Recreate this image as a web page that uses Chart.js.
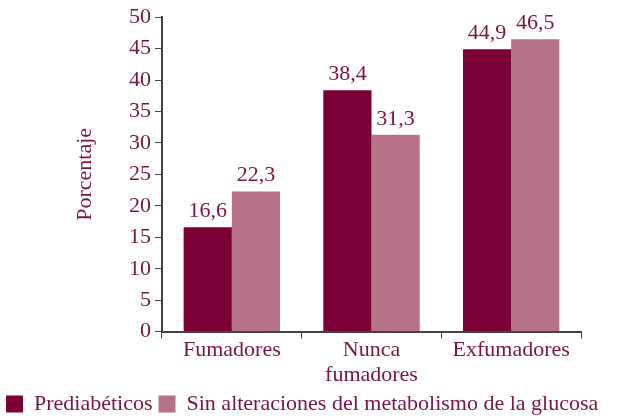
<!DOCTYPE html>
<html>
<head>
<meta charset="utf-8">
<script src="https://cdn.jsdelivr.net/npm/chart.js@4"></script>
<style>
  html, body { margin: 0; padding: 0; background: #fff; }
  #wrap { width: 621px; height: 416px; }
</style>
</head>
<body>
<div id="wrap"><canvas id="chart" width="621" height="416"></canvas></div>
<script>
const categories = [["Fumadores"], ["Nunca", "fumadores"], ["Exfumadores"]]
const prediabeticos = [16.6, 38.4, 44.9]
const sinAlteraciones = [22.3, 31.3, 46.5]
const yTicks = [0, 5, 10, 15, 20, 25, 30, 35, 40, 45, 50]

const textColor = '#7a1444'
const fontFamily = '"Liberation Serif", "DejaVu Serif", serif'

// prints the value above each bar
const valueLabels = {
  id: 'valueLabels',
  afterDatasetsDraw(chart) {
    const ctx = chart.ctx
    ctx.save()
    ctx.fillStyle = textColor
    ctx.font = '22px ' + fontFamily
    ctx.textAlign = 'center'
    ctx.textBaseline = 'bottom'
    chart.data.datasets.forEach((ds, i) => {
      chart.getDatasetMeta(i).data.forEach((bar, j) => {
        ctx.fillText(ds.data[j].toFixed(1).replace('.', ','), bar.x, bar.y - 5)
      })
    })
    ctx.restore()
  }
}

const ctx = document.getElementById('chart').getContext('2d')
const chart = new Chart(ctx, {
  type: 'bar',
  data: {
    labels: categories,
    datasets: [
      {
        label: 'Prediabéticos',
        data: prediabeticos,
        backgroundColor: '#7a0036',
      },
      {
        label: 'Sin alteraciones del metabolismo de la glucosa',
        data: sinAlteraciones,
        backgroundColor: '#b67388',
      },
    ],
  },
  options: {
    animation: false,
    responsive: false,
    maintainAspectRatio: false,
    layout: { padding: { top: 6, right: 0, left: 0, bottom: -9 } },
    datasets: {
      bar: { categoryPercentage: 0.69, barPercentage: 1.0 }
    },
    plugins: {
      tooltip: { enabled: false },
      legend: {
        position: 'bottom',
        align: 'start',
        labels: {
          color: textColor,
          font: { family: fontFamily, size: 22 },
          boxWidth: 17,
          boxHeight: 17,
          padding: 6,
        },
      },
    },
    scales: {
      x: {
        grid: {
          display: true,
          drawOnChartArea: false,
          drawTicks: true,
          tickLength: 7,
          tickColor: '#444',
          offset: true,
        },
        border: { color: '#444', width: 2 },
        ticks: {
          color: textColor,
          font: { family: fontFamily, size: 22, lineHeight: 1.1 },
          padding: 0,
        },
      },
      y: {
        min: 0,
        max: 50,
        afterBuildTicks(axis) {
          axis.ticks = yTicks.map(v => ({ value: v }))
        },
        afterFit(axis) { axis.width = 162 },
        grid: {
          display: true,
          drawOnChartArea: false,
          tickLength: 7,
          tickColor: '#444',
        },
        border: { color: '#444', width: 2 },
        ticks: {
          color: textColor,
          font: { family: fontFamily, size: 22 },
          padding: 4,
          autoSkip: false,
        },
        title: {
          display: true,
          text: 'Porcentaje',
          color: textColor,
          font: { family: fontFamily, size: 22 },
          padding: { top: 72, bottom: 28 },
        },
      },
      // empty axis that only keeps a margin on the right
      spacer: {
        position: 'right',
        display: true,
        grid: { display: false },
        border: { display: false },
        ticks: { display: false },
        afterFit(axis) { axis.width = 40 },
      },
    },
  },
  plugins: [valueLabels],
})
</script>
</body>
</html>
